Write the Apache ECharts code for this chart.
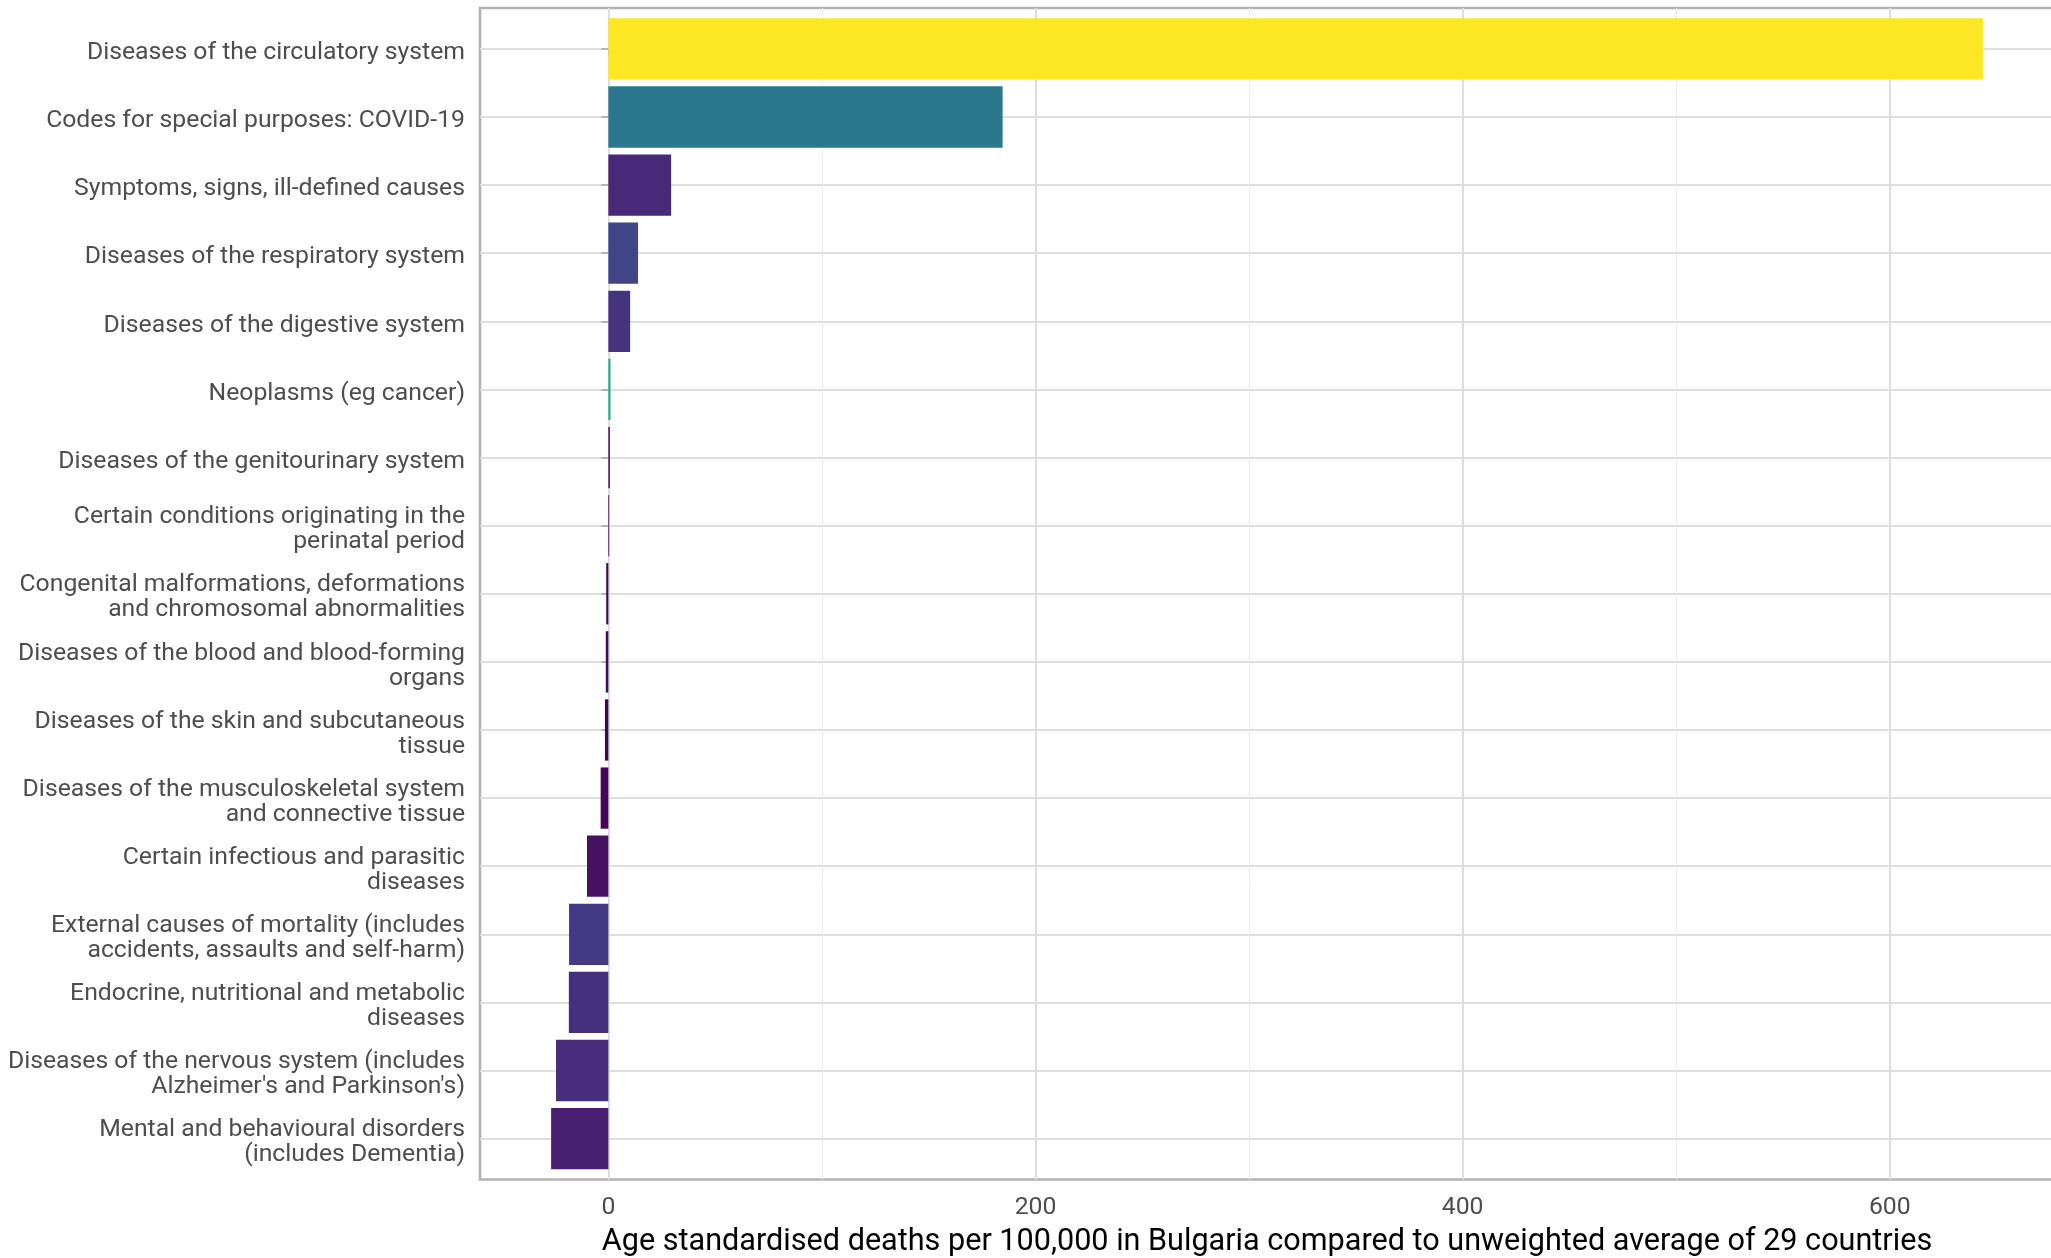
<!DOCTYPE html>
<html>
<head>
<meta charset="utf-8">
<script src="https://cdn.jsdelivr.net/npm/echarts@6/dist/echarts.min.js"></script>
<style>
html,body{margin:0;padding:0;background:#fff;}
#c{width:2051px;height:1258px;}
</style>
</head>
<body>
<div id="c"></div>
<script>
const categories = [
  "Diseases of the circulatory system",
  "Codes for special purposes: COVID-19",
  "Symptoms, signs, ill-defined causes",
  "Diseases of the respiratory system",
  "Diseases of the digestive system",
  "Neoplasms (eg cancer)",
  "Diseases of the genitourinary system",
  "Certain conditions originating in the\nperinatal period",
  "Congenital malformations, deformations\nand chromosomal abnormalities",
  "Diseases of the blood and blood-forming\norgans",
  "Diseases of the skin and subcutaneous\ntissue",
  "Diseases of the musculoskeletal system\nand connective tissue",
  "Certain infectious and parasitic\ndiseases",
  "External causes of mortality (includes\naccidents, assaults and self-harm)",
  "Endocrine, nutritional and metabolic\ndiseases",
  "Diseases of the nervous system (includes\nAlzheimer's and Parkinson's)",
  "Mental and behavioural disorders\n(includes Dementia)"
];
const values = [643.6, 184.6, 29.4, 13.9, 10.2, 1.0, 0.7, 0.3, -1.0, -1.2, -1.6, -3.6, -10.0, -18.4, -18.5, -24.5, -26.8];
const barColors = ["#FDE725", "#2A788E", "#482878", "#414487", "#46337E", "#22A884", "#450A5C", "#440154",
  "#440558", "#45065A", "#440557", "#450559", "#471164", "#433A83", "#45307E", "#472D7B", "#481F70"];
const xMajorTicks = [0, 200, 400, 600];
const xMinorTicks = [100, 300, 500];
const xTitle = "Age standardised deaths per 100,000 in Bulgaria compared to unweighted average of 29 countries";

const catIdx = categories.map((_, i) => i);
const chart = echarts.init(document.getElementById('c'), null, {renderer: 'canvas'});
const FONT = 'Roboto';
const LABEL_SHIFT = 0.059; // small downward nudge of label baseline (in category units)
const option = {
  backgroundColor: '#fff',
  animation: false,
  grid: {left: 480, top: 8, width: 1574, height: 1171.5, show: true, borderColor: '#B3B3B3', borderWidth: 2.6,
    containLabel: false, outerBoundsMode: 'none'},
  xAxis: [{
    type: 'value', min: -60.1, max: 676.9, position: 'bottom',
    axisLine: {show: false},
    axisTick: {show: true, length: 7, customValues: xMajorTicks, lineStyle: {color: '#B3B3B3', width: 2}},
    axisLabel: {show: true, customValues: xMajorTicks, color: '#4D4D4D', fontFamily: FONT, fontSize: 24.75, margin: 16},
    splitLine: {show: true, customValues: xMajorTicks, lineStyle: {color: '#DEDEDE', width: 2}},
    name: xTitle, nameLocation: 'middle', nameGap: 47,
    nameTextStyle: {color: '#000', fontFamily: FONT, fontSize: 30.6}
  }, {
    type: 'value', min: -60.1, max: 676.9, position: 'top',
    axisLine: {show: false},
    axisTick: {show: false, customValues: xMinorTicks},
    axisLabel: {show: false, customValues: xMinorTicks},
    splitLine: {show: true, customValues: xMinorTicks, lineStyle: {color: '#EBEBEB', width: 1}}
  }],
  yAxis: [{
    type: 'value', inverse: true, min: -0.6, max: 16.6, position: 'left',
    axisLine: {show: false},
    axisTick: {show: true, length: 7, customValues: catIdx, lineStyle: {color: '#B3B3B3', width: 2}},
    axisLabel: {show: false, customValues: catIdx},
    splitLine: {show: true, customValues: catIdx, lineStyle: {color: '#DEDEDE', width: 2}}
  }, {
    type: 'value', inverse: true, min: -0.6 - LABEL_SHIFT, max: 16.6 - LABEL_SHIFT, position: 'left', offset: 0,
    axisLine: {show: false},
    axisTick: {show: false, customValues: catIdx},
    axisLabel: {show: true, customValues: catIdx, formatter: v => categories[Math.round(v)] || '',
      color: '#4D4D4D', fontFamily: FONT, fontSize: 24.75, lineHeight: 25, align: 'right', margin: 15},
    splitLine: {show: false}
  }],
  series: [{
    type: 'custom',
    xAxisIndex: 0,
    yAxisIndex: 0,
    data: values.map((v, i) => [v, i]),
    encode: {x: 0, y: 1},
    renderItem: function (params, api) {
      const v = api.value(0), idx = api.value(1);
      const p0 = api.coord([0, idx]);
      const p1 = api.coord([v, idx]);
      const h = api.size([0, 0.9])[1];
      return {
        type: 'rect',
        shape: {x: Math.min(p0[0], p1[0]), y: p0[1] - h / 2, width: Math.max(Math.abs(p1[0] - p0[0]), 0.8), height: h},
        style: {fill: barColors[idx]}
      };
    }
  }]
};
chart.setOption(option);
</script>
</body>
</html>
